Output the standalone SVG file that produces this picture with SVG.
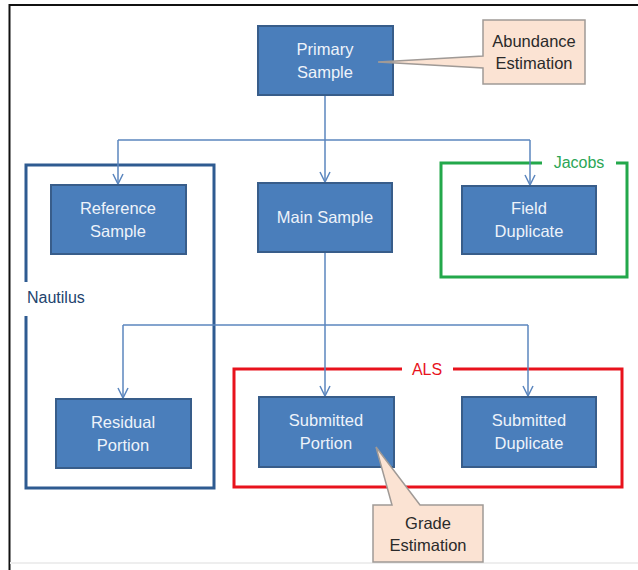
<svg xmlns="http://www.w3.org/2000/svg" width="638" height="570" viewBox="0 0 638 570">
  <defs>
    <marker id="arrow" viewBox="0 0 12 12" refX="11" refY="6" markerWidth="12" markerHeight="12" markerUnits="userSpaceOnUse" orient="auto">
      <path d="M1,1 L11,6 L1,11" fill="none" stroke="#5B86BE" stroke-width="1.5"/>
    </marker>
  </defs>
  <style>
    .box { fill: #4A7EBB; stroke: #385D8A; stroke-width: 2; }
    .boxtext { font-family: "Liberation Sans", Arial, sans-serif; font-size: 16.5px; fill: #EEF3FA; text-anchor: middle; }
    .note { fill: #FBE3D3; stroke: #A09A96; stroke-width: 1.5; }
    .notetext { font-family: "Liberation Sans", Arial, sans-serif; font-size: 16.5px; fill: #2A2A2A; text-anchor: middle; }
    .link { fill: none; stroke: #5B86BE; stroke-width: 1.5; }
    .grp { fill: none; stroke-width: 3; }
    .grplabel { font-family: "Liberation Sans", Arial, sans-serif; font-size: 16px; }
  </style>

  <rect x="0" y="0" width="638" height="570" fill="#FFFFFF"/>
  <!-- outer frame -->
  <path d="M9.5,570 V5 H638" fill="none" stroke="#111111" stroke-width="2"/>
  <line x1="10" y1="563" x2="638" y2="563" stroke="#EEEEEE" stroke-width="2"/>

  <!-- group outlines -->
  <g id="group-nautilus">
    <path class="grp" d="M26,282 V165 H214 V488 H26 V316" stroke="#2E5B91"/>
    <text class="grplabel" x="27" y="303" fill="#23436E">Nautilus</text>
  </g>
  <g id="group-jacobs">
    <path class="grp" d="M542,163 H441 V277 H627 V163 H616" stroke="#23A84B"/>
    <text class="grplabel" x="579" y="168" fill="#2BA656" text-anchor="middle">Jacobs</text>
  </g>
  <g id="group-als">
    <path class="grp" d="M402,369 H234 V487 H622 V369 H453" stroke="#E8121C"/>
    <text class="grplabel" x="427" y="375" fill="#E8121C" text-anchor="middle">ALS</text>
  </g>

  <!-- connectors -->
  <g id="connectors">
    <path class="link" d="M325,95 V140"/>
    <path class="link" d="M118,140 H530"/>
    <path class="link" d="M118,140 V184" marker-end="url(#arrow)"/>
    <path class="link" d="M325,140 V182" marker-end="url(#arrow)"/>
    <path class="link" d="M530,140 V185" marker-end="url(#arrow)"/>
    <path class="link" d="M325,252 V325"/>
    <path class="link" d="M123,325 H528"/>
    <path class="link" d="M123,325 V398" marker-end="url(#arrow)"/>
    <path class="link" d="M325,325 V396" marker-end="url(#arrow)"/>
    <path class="link" d="M528,325 V396" marker-end="url(#arrow)"/>
  </g>

  <!-- nodes -->
  <g id="primary-sample">
    <rect class="box" x="258" y="26" width="135" height="69"/>
    <text class="boxtext" x="325" y="55">Primary</text>
    <text class="boxtext" x="325" y="78">Sample</text>
  </g>
  <g id="reference-sample">
    <rect class="box" x="51" y="185" width="135" height="69"/>
    <text class="boxtext" x="118" y="214">Reference</text>
    <text class="boxtext" x="118" y="237">Sample</text>
  </g>
  <g id="main-sample">
    <rect class="box" x="258" y="183" width="134" height="69"/>
    <text class="boxtext" x="325" y="223">Main Sample</text>
  </g>
  <g id="field-duplicate">
    <rect class="box" x="462" y="186" width="134" height="68"/>
    <text class="boxtext" x="529" y="214">Field</text>
    <text class="boxtext" x="529" y="237">Duplicate</text>
  </g>
  <g id="residual-portion">
    <rect class="box" x="56" y="399" width="135" height="69"/>
    <text class="boxtext" x="123" y="428">Residual</text>
    <text class="boxtext" x="123" y="451">Portion</text>
  </g>
  <g id="submitted-portion">
    <rect class="box" x="259" y="397" width="135" height="70"/>
    <text class="boxtext" x="326" y="426">Submitted</text>
    <text class="boxtext" x="326" y="449">Portion</text>
  </g>
  <g id="submitted-duplicate">
    <rect class="box" x="462" y="397" width="134" height="70"/>
    <text class="boxtext" x="529" y="426">Submitted</text>
    <text class="boxtext" x="529" y="449">Duplicate</text>
  </g>

  <!-- callouts -->
  <g id="abundance-estimation">
    <path class="note" d="M483,20 H585 V84 H483 V68 L378,62 L483,56 Z"/>
    <text class="notetext" x="534" y="47">Abundance</text>
    <text class="notetext" x="534" y="69">Estimation</text>
  </g>
  <g id="grade-estimation">
    <path class="note" d="M373,505 H392 L376,447 L420,505 H483 V562 H373 Z"/>
    <text class="notetext" x="428" y="529">Grade</text>
    <text class="notetext" x="428" y="551">Estimation</text>
  </g>
</svg>
